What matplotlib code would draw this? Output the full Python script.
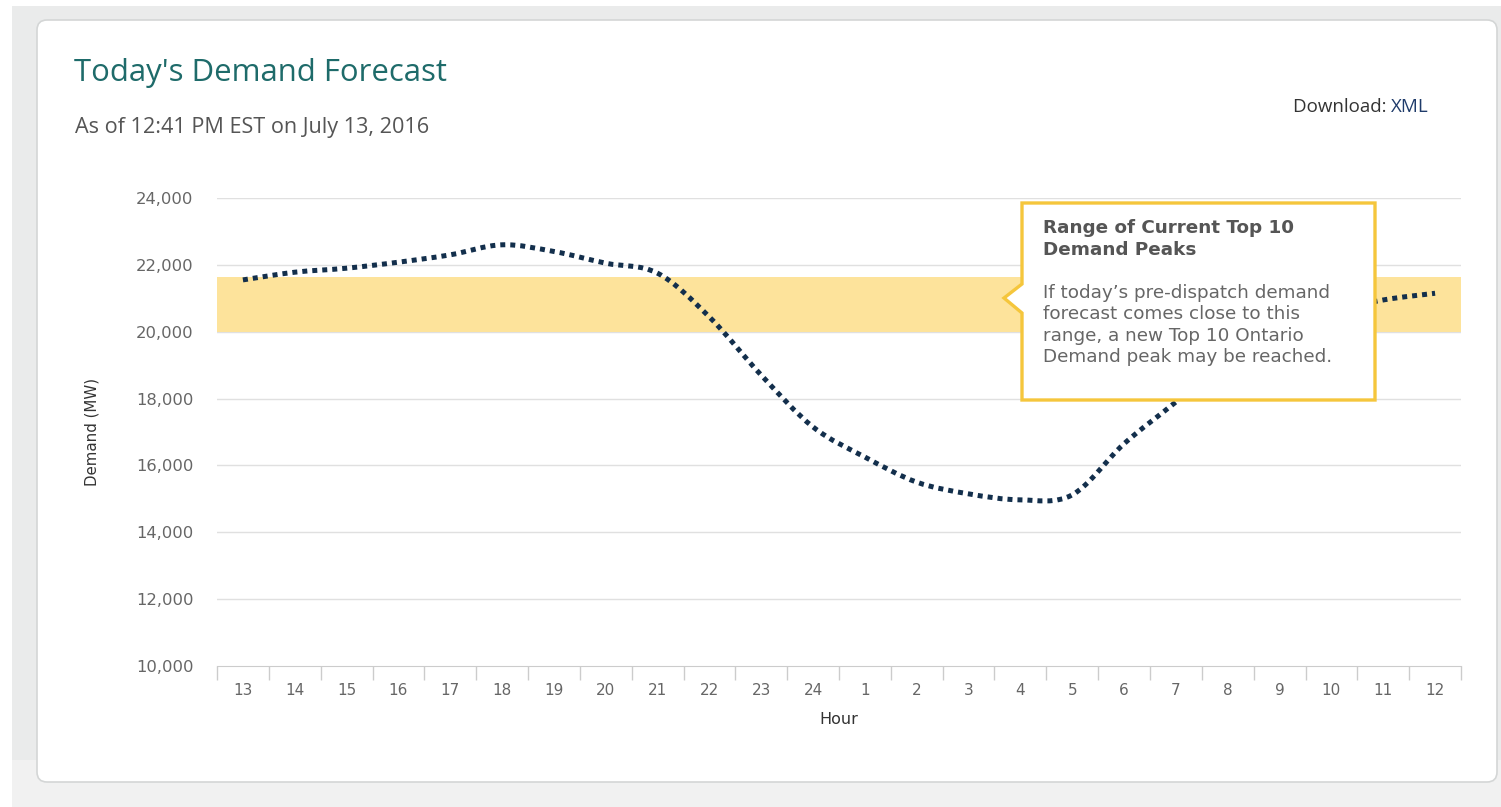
import matplotlib
matplotlib.use("Agg")
import matplotlib.pyplot as plt
import numpy as np
from matplotlib.path import Path
from matplotlib.patches import PathPatch, FancyBboxPatch, Polygon, Rectangle

plt.rcParams['font.family'] = ['DejaVu Sans']

hours = ["13", "14", "15", "16", "17", "18", "19", "20", "21", "22", "23", "24",
         "1", "2", "3", "4", "5", "6", "7", "8", "9", "10", "11", "12"]
demand = [21550, 21780, 21900, 22080, 22300, 22600, 22400, 22050, 21750, 20440,
          18700, 17150, 16250, 15500, 15150, 14970, 15120, 16650, 17900, 19200,
          20100, 20600, 20950, 21150]
peak_low = 20000
peak_high = 21650
y_ticks = [10000, 12000, 14000, 16000, 18000, 20000, 22000, 24000]

W, H = 1501, 807


def spline_path(xs, ys):
    # smooth curve through the points (cubic bezier, catmull-rom style)
    pts = np.column_stack([xs, ys]).astype(float)
    n = len(pts)
    verts = [pts[0]]
    codes = [Path.MOVETO]
    for i in range(n - 1):
        p0 = pts[i - 1] if i > 0 else pts[i]
        p1 = pts[i]
        p2 = pts[i + 1]
        p3 = pts[i + 2] if i + 2 < n else pts[i + 1]
        c1 = p1 + (p2 - p0) / 6.0
        c2 = p2 - (p3 - p1) / 6.0
        verts += [c1, c2, p2]
        codes += [Path.CURVE4] * 3
    return Path(verts, codes)


def main():
    fig = plt.figure(figsize=(W / 100, H / 100), dpi=100)

    # page background + card
    bg = fig.add_axes([0, 0, 1, 1], zorder=0)
    bg.set_xlim(0, W)
    bg.set_ylim(H, 0)
    bg.axis("off")
    bg.add_patch(Rectangle((0, 0), W, H, facecolor="#eaebeb", edgecolor="none"))
    bg.add_patch(Rectangle((0, 0), W, 6, facecolor="#ffffff", edgecolor="none"))
    bg.add_patch(Rectangle((0, 0), 12, H, facecolor="#ffffff", edgecolor="none"))
    bg.add_patch(Rectangle((12, 760), W, H, facecolor="#f1f1f1", edgecolor="none"))
    bg.add_patch(FancyBboxPatch((37, 20), 1460, 762,
                                boxstyle="round,pad=0,rounding_size=10",
                                facecolor="#ffffff", edgecolor="#d4d6d6", linewidth=1.2))

    ax = fig.add_axes([217 / W, 1 - 666 / H, (1461 - 217) / W, (666 - 198) / H], zorder=1)
    ax.patch.set_alpha(0)
    x = np.arange(len(hours))
    ax.set_xlim(-0.5, len(hours) - 0.5)
    ax.set_ylim(10000, 24000)

    ax.axhspan(peak_low, peak_high, facecolor="#fde39b", edgecolor="none", zorder=1)
    for yv in y_ticks[1:]:
        ax.axhline(yv, color="#e0e0e0", linewidth=1, zorder=0.5)

    curve = PathPatch(spline_path(x, demand), fill=False, edgecolor="#132f4c",
                      linewidth=3.6, linestyle=(0, (1, 1)), zorder=3)
    ax.add_patch(curve)

    for s in ["top", "right", "left"]:
        ax.spines[s].set_visible(False)
    ax.spines["bottom"].set_color("#cccccc")

    ax.set_yticks(y_ticks)
    ax.set_yticklabels([f"{v:,}" for v in y_ticks], fontsize=11.8, color="#666666")
    ax.tick_params(axis="y", length=0, pad=17)

    ax.set_xticks(x)
    ax.set_xticklabels(hours, fontsize=11, color="#666666")
    ax.set_xticks(np.arange(-0.5, len(hours)), minor=True)
    ax.tick_params(axis="x", which="major", length=0, pad=12)
    ax.tick_params(axis="x", which="minor", length=10, color="#cccccc", width=1)

    ax.set_xlabel("Hour", fontsize=11.5, color="#333333")
    ax.xaxis.set_label_coords(0.5, -(720 - 666) / 468, transform=ax.transAxes)
    ax.set_ylabel("Demand (MW)", fontsize=10.8, color="#333333")
    ax.yaxis.set_label_coords((92 - 217) / 1244, 0.5, transform=ax.transAxes)
    ax.xaxis.label.set_va("center")
    ax.yaxis.label.set_va("center")

    # overlay: header texts and tooltip
    ov = fig.add_axes([0, 0, 1, 1], zorder=5)
    ov.set_xlim(0, W)
    ov.set_ylim(H, 0)
    ov.axis("off")
    ov.patch.set_alpha(0)

    ov.text(74, 73, "Today's Demand Forecast", fontsize=22.4, color="#1e6b6a",
            family="Open Sans", va="center", ha="left")
    ov.text(75, 128, "As of 12:41 PM EST on July 13, 2016", fontsize=15.6,
            color="#555555", family="Open Sans", va="center", ha="left")
    ov.text(1391, 107, "Download: ", fontsize=13.5, color="#333333",
            family="Open Sans", va="center", ha="right")
    ov.text(1391, 107, "XML", fontsize=13.5, color="#1f3b6a",
            family="Open Sans", va="center", ha="left")

    tip = Polygon([(1022, 203), (1375, 203), (1375, 400), (1022, 400),
                   (1022, 313), (1004, 298), (1022, 284)], closed=True,
                  facecolor="#ffffff", edgecolor="#f5c63c", linewidth=2.4)
    ov.add_patch(tip)
    ov.text(1043, 239, "Range of Current Top 10\nDemand Peaks", fontsize=13.2,
            fontweight="bold", color="#555555",
            va="center", ha="left", linespacing=1.25)
    ov.text(1043, 325, "If today\u2019s pre-dispatch demand\nforecast comes close to this\n"
            "range, a new Top 10 Ontario\nDemand peak may be reached.",
            fontsize=13.2, color="#666666",
            va="center", ha="left", linespacing=1.25)

    fig.savefig("out.png", dpi=100)


if __name__ == '__main__':
    main()
